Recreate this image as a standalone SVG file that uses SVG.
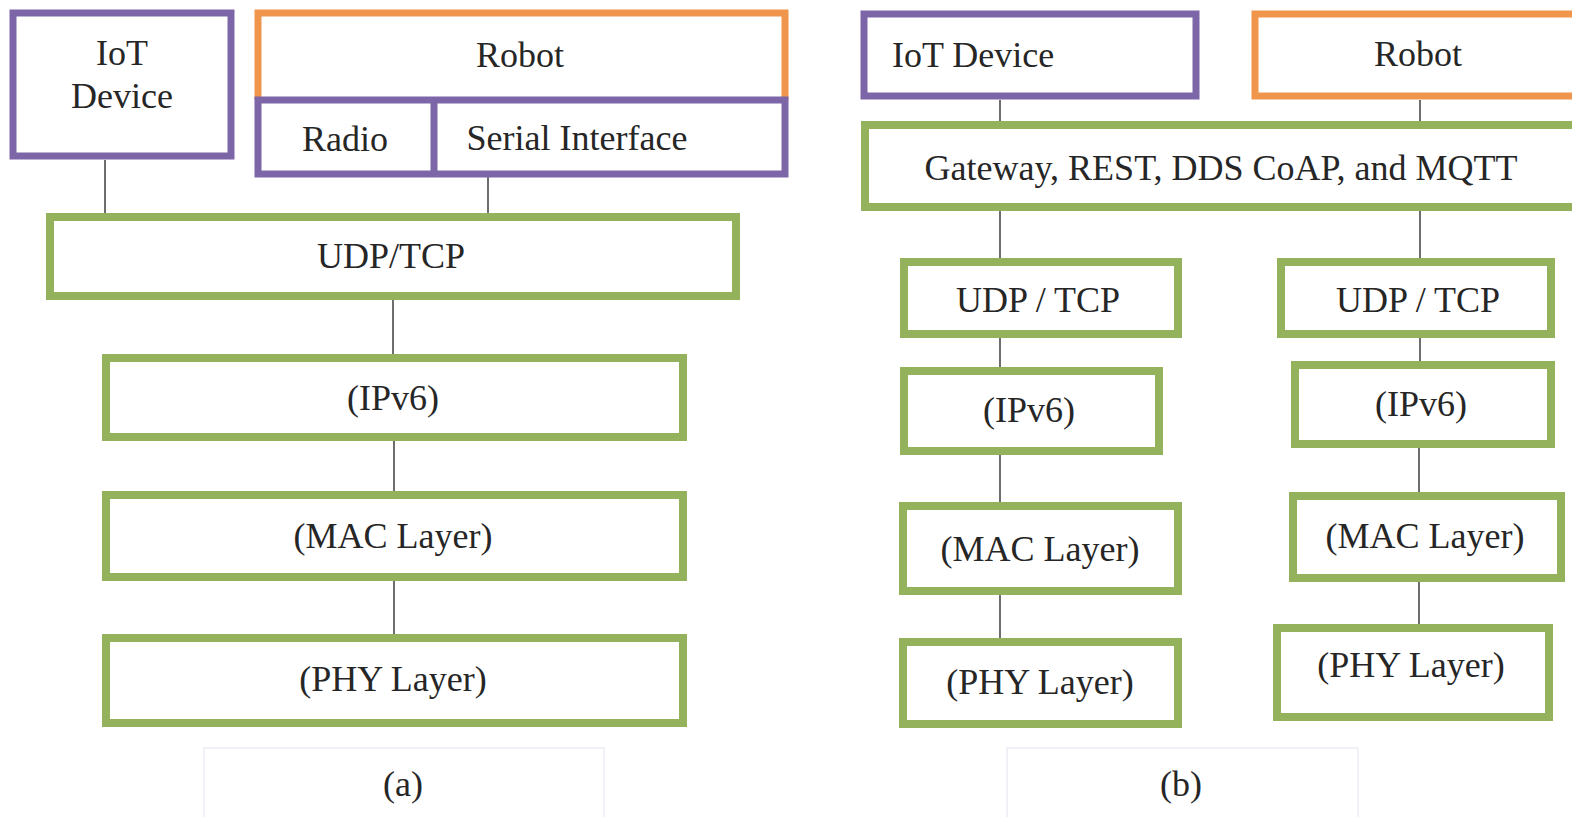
<svg xmlns="http://www.w3.org/2000/svg" width="1572" height="817" viewBox="0 0 1572 817">
<style>
.p{fill:#fff;stroke:#7d66a7;stroke-width:7}
.o{fill:none;stroke:#f0954c;stroke-width:7}
.g{fill:#fff;stroke:#94b25c;stroke-width:8}
.c{fill:#fff;stroke:#ececf3;stroke-width:1.5}
.t{font-family:"Liberation Serif","Times New Roman",serif;font-size:36px;fill:#262626;text-anchor:middle}
.l{text-anchor:start}
.k{stroke:#4a4a4a;stroke-width:1.6;fill:none}
</style>
<rect width="1572" height="817" fill="#fff"/>
<g id="caption-a"><rect class="c" x="204" y="748" width="400" height="80"/><text class="t" x="403" y="796">(a)</text></g>
<g id="caption-b"><rect class="c" x="1007" y="748" width="351" height="80"/><text class="t" x="1181" y="796">(b)</text></g>
<g id="connectors">
<path class="k" d="M105,160V213M488,177V213M393,300V354M394,441V491M394,581V634"/>
<path class="k" d="M1000,100V121M1000,211V258M1000,338V367M1000,455V502M1000,595V638"/>
<path class="k" d="M1420,100V121M1420,211V258M1420,320V361M1419,448V492M1419,582V624"/>
</g>
<g id="a-iot"><rect class="p" x="13" y="13" width="218" height="143"/><text class="t" x="122" y="65">IoT</text><text class="t" x="122" y="108">Device</text></g>
<g id="a-robot"><path class="o" d="M258,100V13H785V100"/><text class="t" x="520" y="67">Robot</text></g>
<g id="a-radio-serial"><rect class="p" x="258" y="100" width="527" height="74"/><line class="p" x1="434" y1="100" x2="434" y2="174"/><text class="t" x="345" y="151">Radio</text><text class="t" x="577" y="150">Serial Interface</text></g>
<g id="a-udp"><rect class="g" x="50" y="217" width="686" height="79"/><text class="t" x="391" y="268">UDP/TCP</text></g>
<g id="a-ipv6"><rect class="g" x="106" y="358" width="577" height="79"/><text class="t" x="393" y="410">(IPv6)</text></g>
<g id="a-mac"><rect class="g" x="106" y="495" width="577" height="82"/><text class="t" x="393" y="548">(MAC Layer)</text></g>
<g id="a-phy"><rect class="g" x="106" y="638" width="577" height="85"/><text class="t" x="393" y="691">(PHY Layer)</text></g>
<g id="b-iot"><rect class="p" x="864" y="14" width="332" height="82"/><text class="t l" x="892" y="67">IoT Device</text></g>
<g id="b-robot"><rect class="o" x="1255" y="14" width="340" height="82"/><text class="t" x="1418" y="66">Robot</text></g>
<g id="b-gateway"><rect class="g" x="865" y="125" width="720" height="82"/><text class="t" x="1221" y="180">Gateway, REST, DDS CoAP, and MQTT</text></g>
<g id="b-l-udp"><rect class="g" x="904" y="262" width="274" height="72"/><text class="t" x="1038" y="312">UDP / TCP</text></g>
<g id="b-l-ipv6"><rect class="g" x="904" y="371" width="255" height="80"/><text class="t" x="1029" y="422">(IPv6)</text></g>
<g id="b-l-mac"><rect class="g" x="903" y="506" width="275" height="85"/><text class="t" x="1040" y="561">(MAC Layer)</text></g>
<g id="b-l-phy"><rect class="g" x="903" y="642" width="275" height="82"/><text class="t" x="1040" y="694">(PHY Layer)</text></g>
<g id="b-r-udp"><rect class="g" x="1281" y="262" width="270" height="72"/><text class="t" x="1418" y="312">UDP / TCP</text></g>
<g id="b-r-ipv6"><rect class="g" x="1295" y="365" width="256" height="79"/><text class="t" x="1421" y="416">(IPv6)</text></g>
<g id="b-r-mac"><rect class="g" x="1293" y="496" width="268" height="82"/><text class="t" x="1425" y="548">(MAC Layer)</text></g>
<g id="b-r-phy"><rect class="g" x="1277" y="628" width="272" height="89"/><text class="t" x="1411" y="677">(PHY Layer)</text></g>
</svg>
